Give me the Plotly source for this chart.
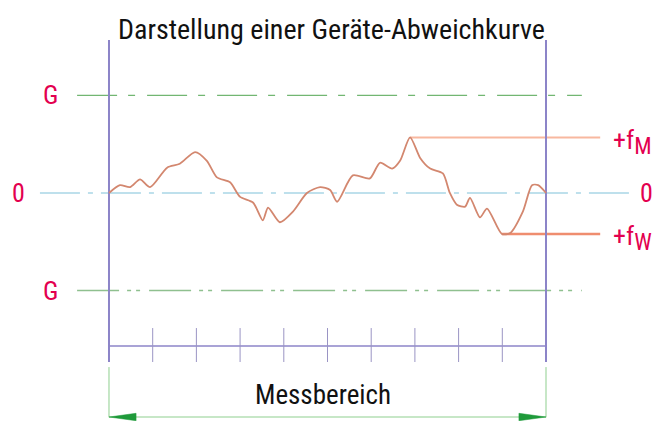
import plotly.graph_objects as go

# ---- data (x in measuring-range units 0..10, y in units of G) ----
curve_x = [0, 0.25, 0.48, 0.71, 0.94, 1.33, 1.62, 1.97, 2.24, 2.47, 2.77, 3.00, 3.30, 3.52, 3.64,
           3.91, 4.21, 4.53, 4.83, 5.06, 5.22, 5.58, 5.97, 6.20, 6.48, 6.66, 6.89, 7.12, 7.35,
           7.64, 7.80, 7.96, 8.15, 8.26, 8.49, 8.65, 8.99, 9.18, 9.47, 9.68, 9.82, 10.0]
curve_y = [0.0, 0.08, 0.06, 0.14, 0.06, 0.26, 0.30, 0.42, 0.33, 0.16, 0.11, -0.04, -0.10, -0.28, -0.15,
           -0.30, -0.19, 0.0, 0.06, 0.03, -0.09, 0.18, 0.15, 0.31, 0.25, 0.33, 0.57, 0.36, 0.25,
           0.20, 0.0, -0.12, -0.14, -0.05, -0.25, -0.16, -0.42, -0.41, -0.19, 0.08, 0.08, 0.0]
tick_positions = [1, 2, 3, 4, 5, 6, 7, 8, 9]
G = 1.0
range_start, range_end = 0, 10
title = "Darstellung einer Geräte-Abweichkurve"
range_label = "Messbereich"
left_labels = ["G", "0", "G"]
left_label_x = [-1.33, -2.06, -1.33]
left_label_y = [G, 0, -G]

FONT = "Liberation Sans Narrow, Roboto Condensed, Arial Narrow, Roboto, sans-serif"
RED = "#e3004f"
PURPLE = "#8c84c8"

fM = max(curve_y)
fW = min(curve_y)
xM = curve_x[curve_y.index(fM)]
xW = curve_x[curve_y.index(fW)]

fig = go.Figure()

def seg(x0, x1, y0, y1, color, width, dash="solid"):
    fig.add_trace(go.Scatter(x=[x0, x1], y=[y0, y1], mode="lines",
                             line=dict(color=color, width=width, dash=dash),
                             hoverinfo="skip", showlegend=False))

# G lines
seg(-0.73, 10.82, G, G, "#72b672", 1.3, "40px,11px,7px,12px")
seg(-0.73, 10.82, -G, -G, "#8fc08f", 1.3, "42px,8px,4px,5px,4px,9px")
# zero line
seg(-1.58, 11.92, 0, 0, "#a9d6e6", 1.3, "40px,8px,5px,8px")

# fM / fW lines
seg(xM, 11.24, fM, fM, "#f8b89f", 2)
seg(xW, 11.24, fW, fW, "#ef8d6f", 2.4)

# vertical bounds
seg(range_start, range_start, 1.569, -1.733, PURPLE, 2)
seg(range_end, range_end, 1.569, -1.733, PURPLE, 2)
# bottom axis
seg(range_start, range_end, -1.569, -1.569, PURPLE, 1.5)
for t in tick_positions:
    seg(t, t, -1.385, -1.733, "#9a94c4", 1)

# curve
fig.add_trace(go.Scatter(x=curve_x, y=curve_y, mode="lines",
                         line=dict(color="#d3876f", width=1.8, shape="spline", smoothing=0.7),
                         hoverinfo="skip", showlegend=False))

# measuring range arrow
seg(range_start, range_start, -1.785, -2.30, "#8fcf8f", 1)
seg(range_end, range_end, -1.785, -2.30, "#8fcf8f", 1)
ay = -2.297
seg(range_start, range_end, ay, ay, "#8fd08f", 1.2)
L, H = 0.62, 0.038
for xe, d in [(range_start, 1), (range_end, -1)]:
    fig.add_trace(go.Scatter(x=[xe, xe + d * L, xe + d * L, xe], y=[ay, ay + H, ay - H, ay],
                             mode="lines", fill="toself", fillcolor="#1f9a3a",
                             line=dict(color="#1f9a3a", width=0.5),
                             hoverinfo="skip", showlegend=False))

# texts
fig.add_annotation(x=5.09, y=1.672, text=title, showarrow=False,
                   font=dict(family=FONT, size=28, color="#111111"))
fig.add_annotation(x=4.886, y=-2.07, text=range_label, showarrow=False,
                   font=dict(family=FONT, size=27, color="#111111"))
for lab, xx, yy in zip(left_labels, left_label_x, left_label_y):
    fig.add_annotation(x=xx, y=yy, text=lab, showarrow=False,
                       font=dict(family=FONT, size=26, color=RED))
fig.add_annotation(x=12.29, y=0, text="0", showarrow=False,
                   font=dict(family=FONT, size=26, color=RED))
fig.add_annotation(x=11.49, y=fM, text="+f<sub><span style='font-size:23px'>M</span></sub>",
                   showarrow=False, xanchor="left",
                   yshift=-5, font=dict(family=FONT, size=26, color=RED))
fig.add_annotation(x=11.49, y=fW, text="+f<sub><span style='font-size:23px'>W</span></sub>",
                   showarrow=False, xanchor="left",
                   yshift=-5, font=dict(family=FONT, size=26, color=RED))

fig.update_layout(
    width=656, height=421, margin=dict(l=0, r=0, t=0, b=0),
    paper_bgcolor="white", plot_bgcolor="white",
    xaxis=dict(range=[-2.494, 12.517], visible=False, fixedrange=True),
    yaxis=dict(range=[-2.338, 1.979], visible=False, fixedrange=True),
    showlegend=False,
)
fig.write_html("out.html", config={"displayModeBar": False},
               post_script="document.body.style.margin='0';document.body.style.overflow='hidden';")
